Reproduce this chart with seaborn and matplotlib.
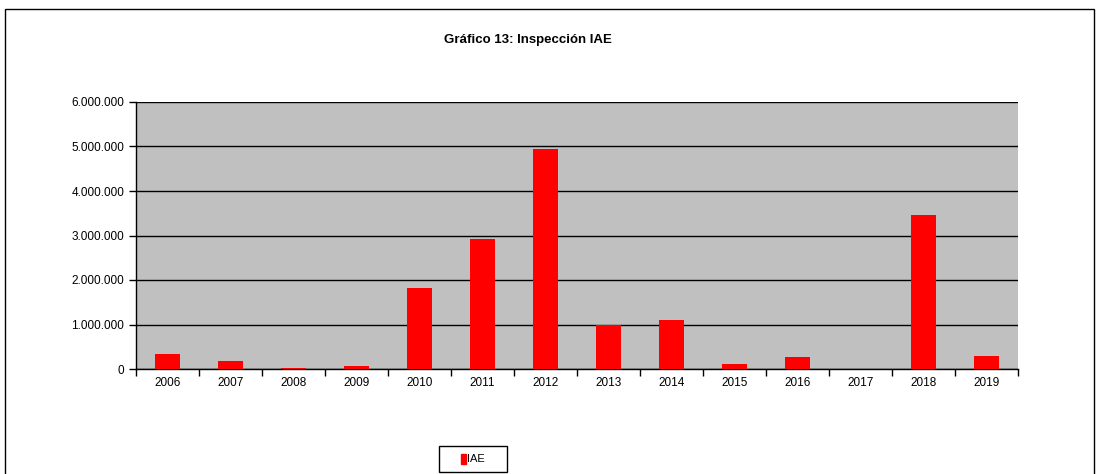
import matplotlib
matplotlib.use("Agg")
import matplotlib.pyplot as plt
import matplotlib.patches as mpatches
from matplotlib.ticker import FuncFormatter, FixedLocator
import seaborn as sns
import pandas as pd

years = ["2006", "2007", "2008", "2009", "2010", "2011", "2012",
         "2013", "2014", "2015", "2016", "2017", "2018", "2019"]
iae = [330000, 170000, 15000, 60000, 1820000, 2920000, 4940000,
       990000, 1100000, 110000, 270000, 10000, 3460000, 290000]
yticks = [0, 1000000, 2000000, 3000000, 4000000, 5000000, 6000000]

sns.set_theme(style="white")
plt.rcParams["font.family"] = ["Liberation Sans Narrow", "Liberation Sans", "DejaVu Sans"]
plt.rcParams["text.color"] = "black"

df = pd.DataFrame({"year": years, "IAE": iae})

fig = plt.figure(figsize=(11.0, 4.74), dpi=100)
ax = fig.add_axes([136 / 1100, 1 - 369 / 474, (1018 - 136) / 1100, (369 - 102) / 474])

# outer chart frame
fig.add_artist(mpatches.Rectangle((5 / 1100, -0.05), 1089 / 1100, 1.05 - 9 / 474,
                                  transform=fig.transFigure, fill=False,
                                  edgecolor="black", linewidth=1.0))

sns.barplot(data=df, x="year", y="IAE", color="#FF0000", width=0.4,
            saturation=1, ax=ax, zorder=3, edgecolor="none", linewidth=0)

ax.set_facecolor("#C0C0C0")
ax.set_ylim(0, 6000000)
ax.set_xlim(-0.5, len(years) - 0.5)
ax.set_yticks(yticks)
ax.yaxis.set_major_formatter(FuncFormatter(lambda v, p: f"{int(v):,}".replace(",", ".")))
ax.grid(axis="y", color="black", linewidth=1.0, zorder=1)
ax.set_axisbelow(True)
ax.set_xlabel("")
ax.set_ylabel("")

for s in ["top", "right"]:
    ax.spines[s].set_visible(False)
for s in ["left", "bottom"]:
    ax.spines[s].set_color("black")
    ax.spines[s].set_linewidth(1.0)

# x ticks at category boundaries, labels centred on bars
ax.xaxis.set_major_locator(FixedLocator([i - 0.5 for i in range(len(years) + 1)]))
ax.xaxis.set_minor_locator(FixedLocator(list(range(len(years)))))
ax.set_xticklabels([""] * (len(years) + 1))
ax.set_xticklabels(years, minor=True)
ax.tick_params(axis="x", which="major", direction="out", length=5, width=1, color="black", bottom=True)
ax.tick_params(axis="x", which="minor", length=0, labelsize=8.5, pad=6, labelcolor="black")
ax.tick_params(axis="y", direction="out", length=5, width=1, color="black", left=True,
               labelsize=8.5, labelcolor="black")

fig.text(528 / 1100, 1 - 40 / 474, "Gráfico 13: Inspección IAE", ha="center", va="center",
         fontsize=9.5, fontweight="bold", color="black")

# legend box
fig.add_artist(mpatches.Rectangle((439 / 1100, 1 - 472 / 474), 68 / 1100, 26 / 474,
                                  transform=fig.transFigure, facecolor="white",
                                  edgecolor="black", linewidth=1.0))
leg = fig.legend(handles=[mpatches.Patch(color="#FF0000", label="IAE")],
                 loc="center", bbox_to_anchor=(473 / 1100, 1 - 459 / 474),
                 frameon=False, fontsize=8, handlelength=0.45,
                 handleheight=1.0, handletextpad=0.15, borderpad=0.2,
                 borderaxespad=0)
for t in leg.get_texts():
    t.set_color("black")

fig.savefig("out.png", dpi=100, facecolor="white")
